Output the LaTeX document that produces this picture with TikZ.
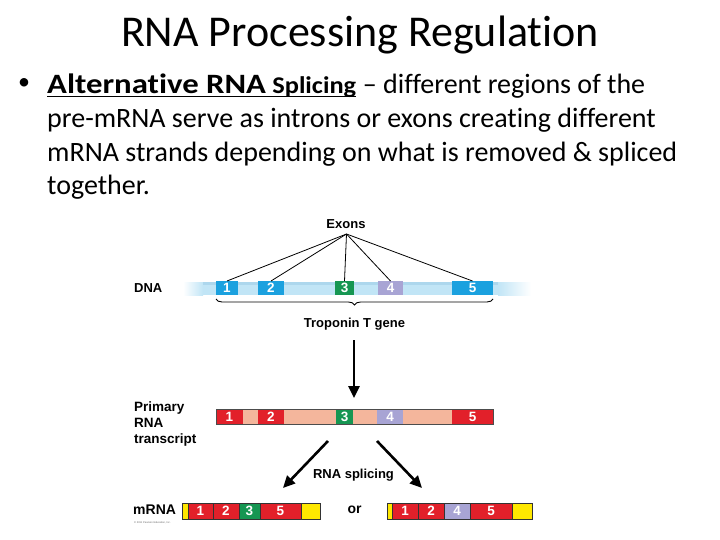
\documentclass[tikz,border=0pt]{standalone}
\usepackage{fontspec}
\setmainfont{Carlito}[Ligatures=NoCommon]
\newfontfamily\arial{Liberation Sans}
\usetikzlibrary{arrows.meta,decorations.pathreplacing,calc}
\definecolor{strandblue}{RGB}{193,229,246}
\definecolor{stranddark}{RGB}{160,206,232}
\definecolor{exonblue}{RGB}{27,161,223}
\definecolor{exongreen}{RGB}{22,150,82}
\definecolor{exonlav}{RGB}{168,164,212}
\definecolor{exonred}{RGB}{226,32,42}
\definecolor{intron}{RGB}{244,182,156}
\definecolor{capyellow}{RGB}{255,232,0}
\tikzset{
  seg/.style={rectangle, inner sep=0pt, outer sep=0pt, anchor=west, text=white,
    font=\arial\bfseries\fontsize{13.5}{13.5}\selectfont},
  lbl/.style={inner sep=0pt, font=\arial\bfseries\fontsize{13}{16}\selectfont, align=left},
  bigarrow/.style={line width=2.6pt, -{Triangle[length=12pt,width=11pt]}},
  exonline/.style={line width=0.8pt},
  body/.style={inner sep=0pt, anchor=base west, font=\fontsize{28}{28}\selectfont},
}
\begin{document}
\begin{tikzpicture}[x=1pt,y=-1pt]
\useasboundingbox (0,0) rectangle (720,540);
% title
\node[inner sep=0pt, anchor=base, font=\fontsize{44}{44}\selectfont] (title) at (360,46.7) {RNA Processing Regulation};
% bullet text
\node[inner sep=0pt, anchor=center, font=\fontsize{24}{24}\selectfont] (bul) at (24,84) {•};
\node[body] (alt) at (47,93.3) {\textbf{\scalebox{1.17}[1]{Alternative RNA} {\fontsize{24}{24}\selectfont\scalebox{1.1}[1]{Splicing}}}};
\draw[line width=1.4pt] ($(alt.base west)+(0,3.5)$) -- ($(alt.base east)+(0,3.5)$);
\node[body] (l1) at (alt.base east) {\ – different regions of the};
\node[body] (l2) at (47,127.5) {pre-mRNA serve as introns or exons creating different};
\node[body] (l3) at (47,161.5) {mRNA strands depending on what is removed \& spliced};
\node[body] (l4) at (47,195) {together.};

% ---------- DNA ----------
\node[lbl] (exons) at (346,224) {Exons};
\node[lbl, anchor=west] (dnalbl) at (134,288.5) {DNA};
\shade[left color=white, right color=strandblue] (183,282) rectangle (203,295);
\fill[strandblue] (203,282) rectangle (498,295);
\shade[left color=strandblue, right color=white] (498,282) rectangle (531,295);
\fill[stranddark, opacity=0.6] (203,282) rectangle (498,285);
\tikzset{dseg/.style={seg, minimum height=14pt}}
\node[dseg, fill=exonblue, minimum width=22pt] (d1) at (216,288) {1};
\node[dseg, fill=exonblue, minimum width=26pt] (d2) at (258,288) {2};
\node[dseg, fill=exongreen, minimum width=19pt] (d3) at (335,288) {3};
\node[dseg, fill=exonlav, minimum width=25pt] (d4) at (378,288) {4};
\node[dseg, fill=exonblue, minimum width=41pt] (d5) at (452,288) {5};
\coordinate (apex) at (346.5,234);
\foreach \b in {d1,d2,d3,d4,d5} \draw[exonline] (apex) -- (\b.north);
\draw[line width=0.9pt, decorate, decoration={brace, amplitude=6pt, aspect=0.5}]
  (493,299) -- (216,299);
\node[lbl] (gene) at (354.5,324) {Troponin T gene};

\draw[bigarrow] (354,340) -- (354,398);

% ---------- Primary transcript ----------
\node[lbl, font=\arial\bfseries\fontsize{13.5}{16}\selectfont, anchor=north west] (prim) at (134,401.5) {Primary\\RNA\\transcript};
\node[rectangle, fill=intron, inner sep=0pt, anchor=west,
  minimum width=277pt, minimum height=15pt] (pre) at (216,417) {};
\tikzset{pseg/.style={seg, minimum height=15pt}}
\node[pseg, fill=exonred, minimum width=27pt] (p1) at (216,417) {1};
\node[pseg, fill=exonred, minimum width=26pt] (p2) at (258,417) {2};
\node[pseg, fill=exongreen, minimum width=17pt] (p3) at (336,417) {3};
\node[pseg, fill=exonlav, minimum width=26pt] (p4) at (377,417) {4};
\node[pseg, fill=exonred, minimum width=41pt] (p5) at (452,417) {5};
\draw[draw=black!70, line width=0.5pt] (pre.north west) rectangle (pre.south east);

% ---------- splicing ----------
\coordinate (sl) at (328,441);
\coordinate (sr) at (377,441);
\draw[bigarrow] (sl) -- (283,488);
\draw[bigarrow] (sr) -- (422,488);
\node[lbl] (splice) at (353.5,475) {RNA splicing};

% ---------- mRNAs ----------
\node[lbl, font=\arial\bfseries\fontsize{14}{14}\selectfont, anchor=west] (mlbl) at (133,510) {mRNA};
\node[inner sep=0pt, anchor=west, font=\arial\fontsize{2.6}{3}\selectfont, text=black!60] (copy) at (134,522.5) {© 2011 Pearson Education, Inc.};
\tikzset{mseg/.style={seg, draw=black!80, line width=0.5pt, minimum height=15.6pt}}
\node[mseg, fill=capyellow, minimum width=6pt] (a0) at (182,511) {};
\node[mseg, fill=exonred, minimum width=25pt] (a1) at (188,511) {1};
\node[mseg, fill=exonred, minimum width=26pt] (a2) at (213,511) {2};
\node[mseg, fill=exongreen, minimum width=21pt] (a3) at (239,511) {3};
\node[mseg, fill=exonred, minimum width=41pt] (a5) at (260,511) {5};
\node[mseg, fill=capyellow, minimum width=19pt] (a6) at (301,511) {};
\node[lbl, font=\arial\bfseries\fontsize{14}{14}\selectfont] (or) at (354.5,509.5) {or};
\node[mseg, fill=capyellow, minimum width=5pt] (b0) at (387,511) {};
\node[mseg, fill=exonred, minimum width=26pt] (b1) at (392,511) {1};
\node[mseg, fill=exonred, minimum width=26pt] (b2) at (418,511) {2};
\node[mseg, fill=exonlav, minimum width=26pt] (b4) at (444,511) {4};
\node[mseg, fill=exonred, minimum width=42pt] (b5) at (470,511) {5};
\node[mseg, fill=capyellow, minimum width=20pt] (b6) at (512,511) {};
\end{tikzpicture}
\end{document}
